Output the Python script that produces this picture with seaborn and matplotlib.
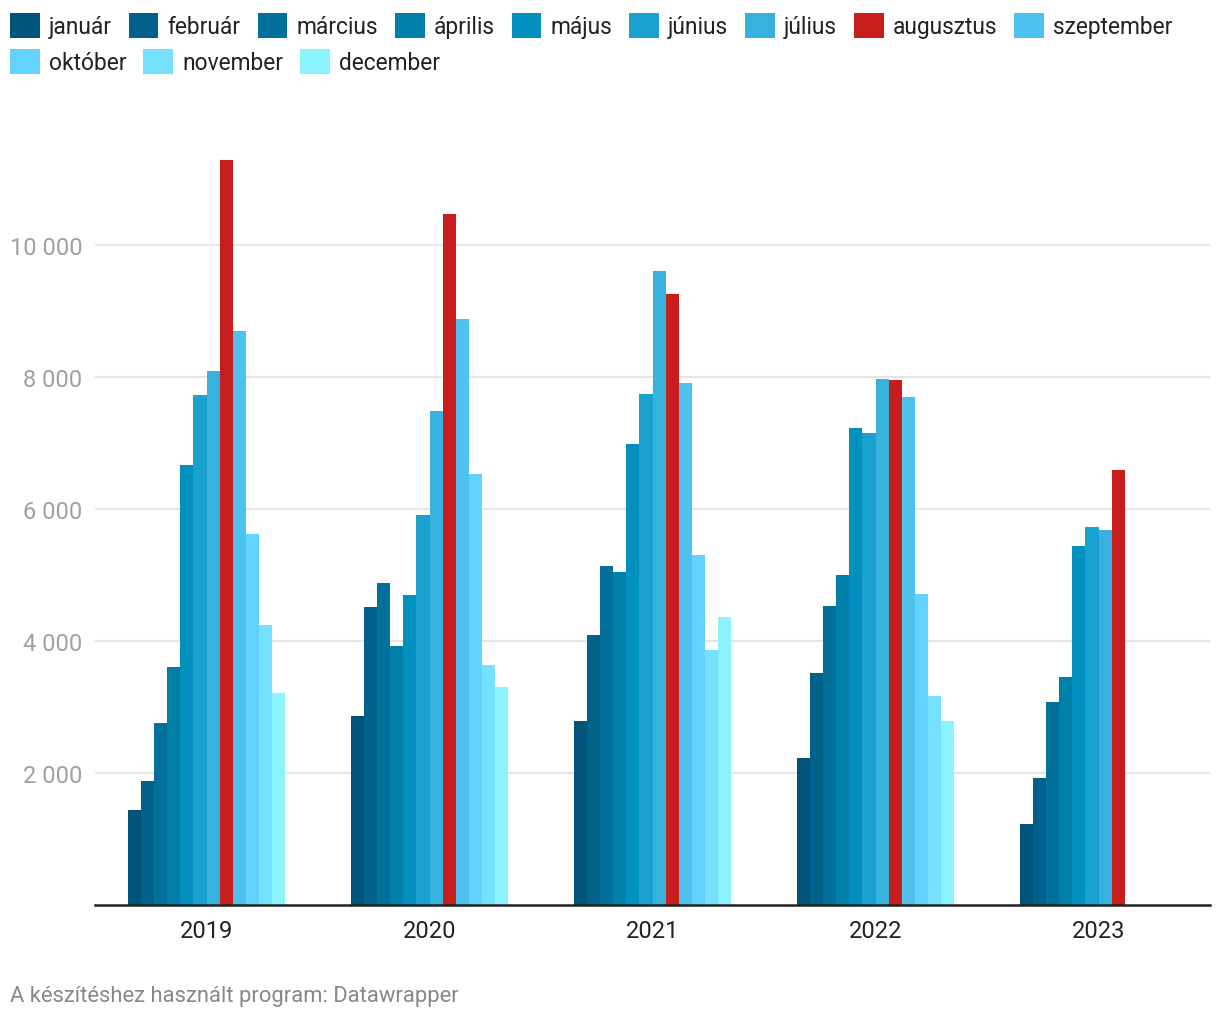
import numpy as np
import pandas as pd
import matplotlib.pyplot as plt
import seaborn as sns
from matplotlib.patches import Patch
from matplotlib.ticker import FuncFormatter

sns.set_style("white")
plt.rcParams['font.family'] = ['Roboto', 'DejaVu Sans']

# adatok
years = ['2019', '2020', '2021', '2022', '2023']
months = ['január', 'február', 'március', 'április', 'május', 'június',
          'július', 'augusztus', 'szeptember', 'október', 'november', 'december']
colors = ['#005479', '#00628a', '#01719c', '#007fa9', '#0291bf', '#19a2cf',
          '#37b1de', '#c71e1d', '#4dc2ee', '#63d2fe', '#76e1fe', '#8af3fe']

v2019 = [1440, 1880, 2760, 3600, 6670, 7720, 8090, 11290, 8690, 5620, 4240, 3210]
v2020 = [2870, 4510, 4880, 3920, 4700, 5900, 7480, 10470, 8870, 6530, 3640, 3300]
v2021 = [2780, 4090, 5130, 5050, 6990, 7740, 9610, 9255, 7910, 5300, 3860, 4360]
v2022 = [2220, 3520, 4530, 5000, 7220, 7150, 7960, 7945, 7690, 4715, 3170, 2780]
v2023 = [1220, 1930, 3080, 3460, 5440, 5730, 5680, 6590, np.nan, np.nan, np.nan, np.nan]

rows = []
for y, vals in zip(years, [v2019, v2020, v2021, v2022, v2023]):
    for m, v in zip(months, vals):
        rows.append({'ev': y, 'honap': m, 'ertek': v})
df = pd.DataFrame(rows)

fig = plt.figure(figsize=(12.2, 10.2), dpi=100)
ax = fig.add_axes([95/1220, 1 - 906/1020, 1115/1220, 746/1020])

sns.barplot(data=df, x='ev', y='ertek', hue='honap', hue_order=months,
            order=years, palette=dict(zip(months, colors)), width=0.7,
            saturation=1, linewidth=0, ax=ax, legend=False, errorbar=None)

ax.set_xlim(-0.5, 4.5)
ax.set_ylim(0, 11300)
ax.set_yticks([2000, 4000, 6000, 8000, 10000])
ax.yaxis.set_major_formatter(FuncFormatter(lambda v, p: f"{int(v):,}".replace(',', ' ')))
ax.grid(axis='y', color='#e5e5e5', linewidth=1.5)
ax.set_axisbelow(True)
for s in ['top', 'right', 'left']:
    ax.spines[s].set_visible(False)
ax.spines['bottom'].set_color('#222222')
ax.spines['bottom'].set_linewidth(1.8)
ax.tick_params(axis='y', length=0, pad=9, labelsize=17, labelcolor='#a0a0a0')
ax.tick_params(axis='x', length=0, pad=10, labelsize=17, labelcolor='#222222')
ax.set_xlabel('')
ax.set_ylabel('')

# jelmagyarázat két sorban
handles = [Patch(facecolor=c, edgecolor='none') for c in colors]
leg_kw = dict(frameon=False, fontsize=16.4, handlelength=1.3, handleheight=1.3,
              handletextpad=0.4, columnspacing=0.75, borderpad=0, borderaxespad=0,
              loc='upper left')
leg1 = fig.legend(handles[:9], months[:9], ncol=9,
                  bbox_to_anchor=(10/1220, 1 - 14/1020), **leg_kw)
leg2 = fig.legend(handles[9:], months[9:], ncol=3,
                  bbox_to_anchor=(10/1220, 1 - 50/1020), **leg_kw)
for leg in (leg1, leg2):
    for t in leg.get_texts():
        t.set_color('#222222')

fig.text(10/1220, 1 - 997/1020, 'A készítéshez használt program: Datawrapper',
         fontsize=15.8, color='#888888', va='center', ha='left')

fig.savefig('out.png', dpi=100, facecolor='white')
